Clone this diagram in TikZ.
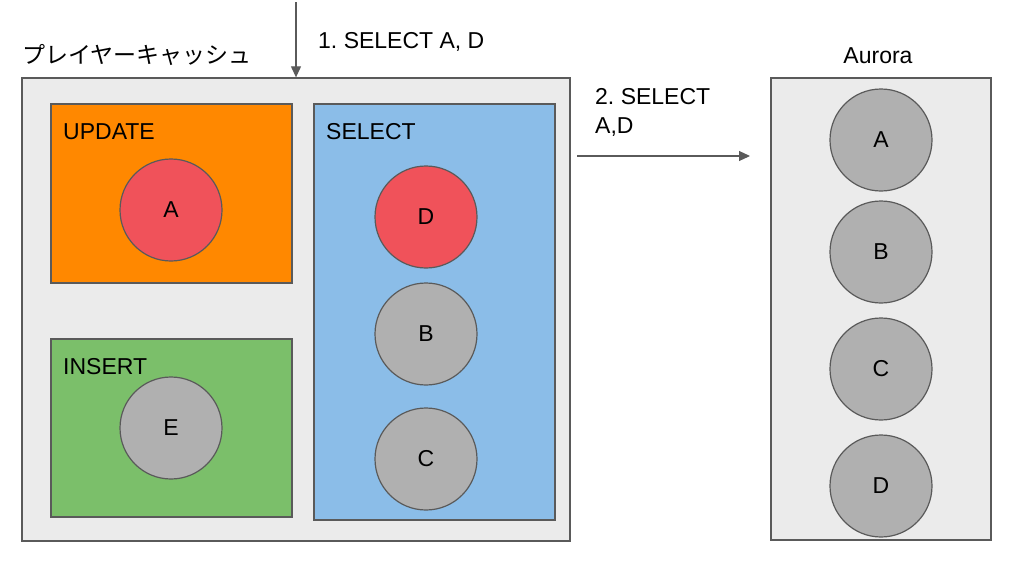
\documentclass[tikz,border=0pt]{standalone}
\usepackage{fontspec}
\setmainfont{Liberation Sans}
\newfontfamily\jpfont{Noto Sans CJK JP}
\usetikzlibrary{arrows.meta,positioning}
\frenchspacing
\definecolor{ink}{RGB}{90,90,90}
\definecolor{pane}{RGB}{235,235,235}
\definecolor{upd}{RGB}{255,136,0}
\definecolor{ins}{RGB}{123,191,106}
\definecolor{sel}{RGB}{139,189,232}
\definecolor{hot}{RGB}{240,82,90}
\definecolor{row}{RGB}{176,176,176}
\tikzset{
  every node/.style={font=\fontsize{23}{29}\selectfont},
  pane/.style={draw=ink,line width=1.3pt,fill=pane,inner sep=0pt},
  part/.style={draw=ink,line width=1.3pt,inner sep=0pt},
  rec/.style={circle,draw=ink,line width=1.2pt,fill=row,minimum size=102pt,inner sep=0pt},
  lbl/.style={anchor=base west,inner sep=0pt,align=left},
  arr/.style={-{Triangle[length=11pt,width=10pt]},line width=1.1pt,ink},
}
\begin{document}
\begin{tikzpicture}[x=1pt,y=-1pt]
  \useasboundingbox (0,0) rectangle (1015,560);
  % player cache
  \node[pane,minimum width=548pt,minimum height=463pt] (cache) at (296,309.5) {};
  \node[lbl] (cachelbl) at (22,63) {\jpfont プレイヤーキャッシュ};
  \node[part,fill=upd,minimum width=241pt,minimum height=179pt] (updbox) at (171.5,193.5) {};
  \node[part,fill=ins,minimum width=241pt,minimum height=178pt] (insbox) at (171.5,428) {};
  \node[part,fill=sel,minimum width=241pt,minimum height=416pt] (selbox) at (434.5,312) {};
  \node[lbl] (updlbl) at (63,139) {UPDATE};
  \node[lbl] (inslbl) at (63,374) {INSERT};
  \node[lbl] (sellbl) at (326,139) {SELECT};
  \node[rec,fill=hot] (ua) at (171,210) {A};
  \node[rec] (ie) at (171,428) {E};
  \node[rec,fill=hot] (sd) at (426,217) {D};
  \node[rec] (sb) at (426,334) {B};
  \node[rec] (sc) at (426,459) {C};
  % aurora
  \node[pane,minimum width=220pt,minimum height=462pt] (aur) at (881,309) {};
  \node[anchor=base,inner sep=0pt] (aurlbl) at (878,63) {Aurora};
  \node[rec] (aa) at (881,140) {A};
  \node[rec] (ab) at (881,252) {B};
  \node[rec] (ac) at (881,369) {C};
  \node[rec] (ad) at (881,486) {D};
  % queries
  \coordinate (q1) at (296,2);
  \coordinate (q2) at (577,156);
  \draw[arr] (q1) -- (q1 |- cache.north);
  \node[lbl] (q1lbl) at (318,48) {1. SELECT A, D};
  \draw[arr] (q2) -- (750,156);
  \node[lbl] (q2lbl) at (595,133) {2. SELECT\\A,D};
\end{tikzpicture}
\end{document}
